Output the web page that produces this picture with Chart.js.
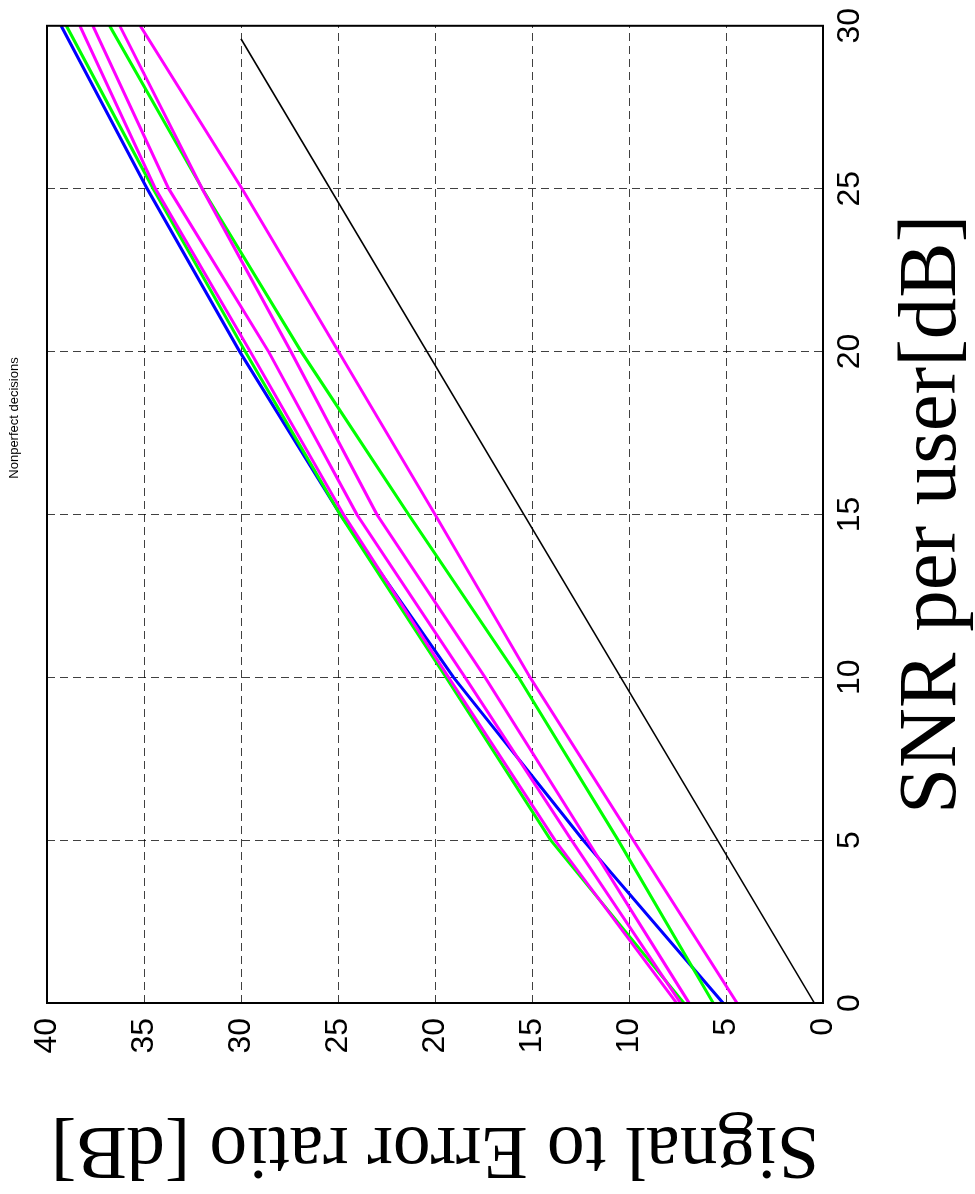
<!DOCTYPE html>
<html>
<head>
<meta charset="utf-8">
<title>Nonperfect decisions</title>
<script src="https://cdn.jsdelivr.net/npm/chart.js@4.4.1/dist/chart.umd.min.js"></script>
<style>
  html, body { margin: 0; padding: 0; background: #fff; overflow: hidden; }
  /* the figure is laid out landscape and turned a quarter counter-clockwise */
  #page {
    position: absolute; left: 0; top: 0;
    width: 1194px; height: 975px;
    transform-origin: 0 0;
    transform: translate(0, 1194px) rotate(-90deg);
  }
  #serChart { position: absolute; left: 0; top: 0; }
  #plotTitle {
    position: absolute; top: 6px; left: 676px; width: 200px;
    text-align: center; color: #000;
    font: 13px "Liberation Sans", Arial, sans-serif;
  }
</style>
</head>
<body>
<div id="page">
  <canvas id="serChart" width="1194" height="975"></canvas>
  <div id="plotTitle">Nonperfect decisions</div>
</div>
<script>
// SNR values (dB) the curves were evaluated at
const snrPoints = [0, 5, 10, 15, 20, 25, 30];

// signal to error ratio (dB) per curve
const serBlue     = [5.15, 12.36, 19.05, 24.89, 30.07, 34.84, 39.27];
const serGreenA   = [7.17, 14.04, 19.43, 24.89, 29.78, 34.53, 39.00];
const serGreenB   = [5.66, 10.56, 15.70, 21.37, 26.90, 32.00, 36.77];
const serMagentaA = [7.55, 13.82, 19.31, 24.72, 29.52, 34.41, 38.31];
const serMagentaB = [7.34, 12.96, 18.45, 24.03, 28.58, 33.73, 37.64];
const serMagentaC = [6.90, 12.15, 17.42, 23.00, 27.43, 32.00, 36.25];
const serMagentaD = [4.43, 9.78, 15.10, 20.00, 24.97, 29.95, 35.19];

// reference line
const refSnr = [0, 29.6];
const refSer = [0.45, 30];

const snrTicks = [0, 5, 10, 15, 20, 25, 30];
const serTicks = [0, 5, 10, 15, 20, 25, 30, 35, 40];

function toPoints(xs, ys) {
    return xs.map((x, i) => ({ x: x, y: ys[i] }));
}

function curve(label, color, xs, ys, width) {
    return {
        label: label,
        data: toPoints(xs, ys),
        borderColor: color,
        borderWidth: width,
        pointRadius: 0,
        fill: false,
        tension: 0
    };
}

// solid box round the plot area
const framePlugin = {
    id: 'frame',
    afterDraw(chart) {
        const { ctx, chartArea: a } = chart;
        ctx.save();
        ctx.strokeStyle = '#000';
        ctx.lineWidth = 2;
        ctx.strokeRect(a.left, a.top, a.right - a.left, a.bottom - a.top);
        ctx.restore();
    }
};

const tickFont = { family: '"Liberation Sans", Arial, sans-serif', size: 32 };
const serif = '"Liberation Serif", "Times New Roman", serif';
const gridStyle = { color: 'rgba(0,0,0,0.75)', lineWidth: 1, drawTicks: false };

new Chart(document.getElementById('serChart'), {
    type: 'line',
    data: {
        datasets: [
            curve('magenta a', '#ff00ff', snrPoints, serMagentaA, 3),
            curve('magenta b', '#ff00ff', snrPoints, serMagentaB, 3),
            curve('magenta c', '#ff00ff', snrPoints, serMagentaC, 3),
            curve('magenta d', '#ff00ff', snrPoints, serMagentaD, 3),
            curve('green a', '#00ff00', snrPoints, serGreenA, 3),
            curve('green b', '#00ff00', snrPoints, serGreenB, 3),
            curve('blue', '#0000ff', snrPoints, serBlue, 3),
            curve('reference', '#000000', refSnr, refSer, 1.5)
        ]
    },
    options: {
        responsive: false,
        animation: false,
        devicePixelRatio: 1,
        layout: { padding: { top: 47, right: 22, left: 0, bottom: 0 } },
        plugins: {
            legend: { display: false },
            tooltip: { enabled: false },
            title: { display: false }
        },
        scales: {
            x: {
                type: 'linear',
                min: 0,
                max: 30,
                afterBuildTicks: axis => { axis.ticks = snrTicks.map(v => ({ value: v })); },
                afterFit: axis => { axis.height = 152; },
                grid: gridStyle,
                border: { display: false, dash: [8, 5] },
                ticks: { color: '#000', font: tickFont, padding: 8, maxRotation: 0, autoSkip: false },
                title: {
                    display: true, text: 'SNR per user[dB]', color: '#000',
                    font: { family: serif, size: 83, lineHeight: 1 }, padding: 0
                }
            },
            y: {
                type: 'linear',
                min: 0,
                max: 40,
                afterBuildTicks: axis => { axis.ticks = serTicks.map(v => ({ value: v })); },
                afterFit: axis => { axis.width = 191; },
                grid: gridStyle,
                border: { display: false, dash: [8, 5] },
                ticks: { color: '#000', font: tickFont, padding: 15 },
                title: {
                    display: true, text: 'Signal to Error ratio [dB]', color: '#000',
                    font: { family: serif, size: 76, lineHeight: 1 }, padding: { top: 8, bottom: 0 }
                }
            }
        }
    },
    plugins: [framePlugin]
});
</script>
</body>
</html>
